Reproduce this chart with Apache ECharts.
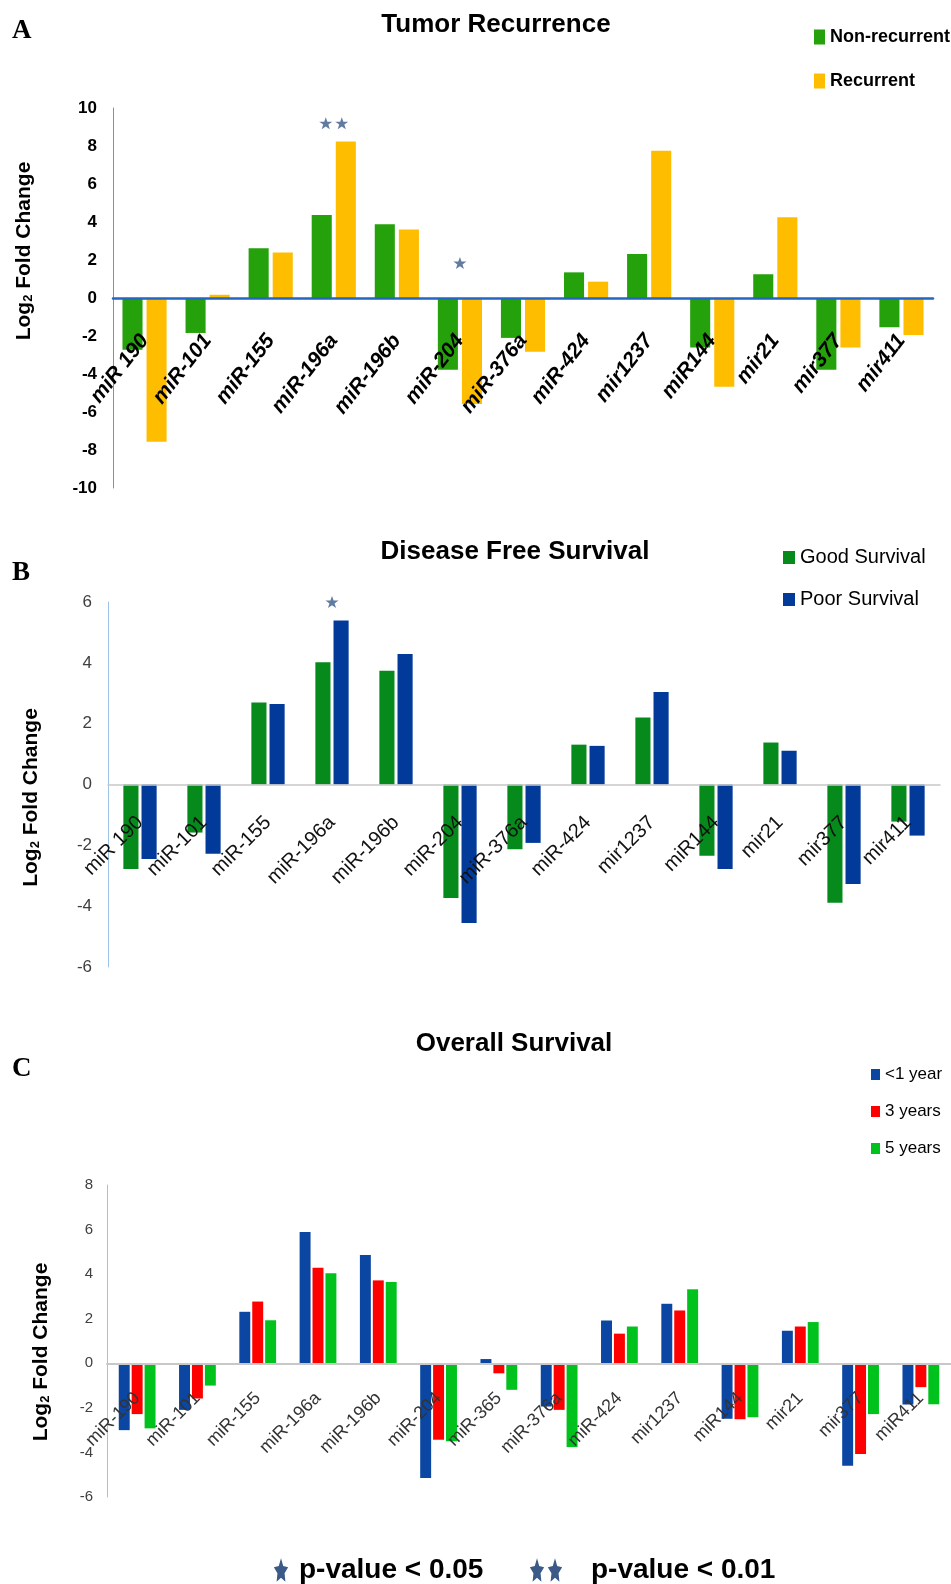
<!DOCTYPE html>
<html>
<head>
<meta charset="utf-8">
<script src="https://cdn.jsdelivr.net/npm/echarts@6.0.0/dist/echarts.min.js"></script>
<style>
html, body { margin: 0; padding: 0; background: #fff; }
#chart { width: 951px; height: 1584px; }
</style>
</head>
<body>
<div id="chart"></div>
<script>
// categories
const catsAB = ['miR 190', 'miR-101', 'miR-155', 'miR-196a', 'miR-196b', 'miR-204', 'miR-376a', 'miR-424', 'mir1237', 'miR144', 'mir21', 'mir377', 'mir411'];
const catsC = ['miR-190', 'miR-101', 'miR-155', 'miR-196a', 'miR-196b', 'miR-204', 'miR-365', 'miR-376a', 'miR-424', 'mir1237', 'miR144', 'mir21', 'mir377', 'miR411'];

// A: tumor recurrence
const nonRecurrent = [-2.72, -1.84, 2.62, 4.37, 3.88, -3.77, -2.1, 1.35, 2.31, -2.6, 1.25, -3.77, -1.54];
const recurrent = [-7.56, 0.17, 2.4, 8.24, 3.6, -5.58, -2.83, 0.86, 7.75, -4.67, 4.25, -2.6, -1.95];

// B: disease free survival
const goodSurvival = [-2.78, -1.58, 2.7, 4.02, 3.74, -3.73, -2.13, 1.31, 2.2, -2.34, 1.38, -3.89, -1.22];
const poorSurvival = [-2.45, -2.28, 2.65, 5.39, 4.29, -4.55, -1.92, 1.27, 3.04, -2.78, 1.11, -3.27, -1.68];

// C: overall survival
const underOneYear = [-3.0, -2.09, 2.31, 5.89, 4.86, -5.15, 0.19, -1.94, 1.92, 2.67, -2.49, 1.46, -4.6, -1.85];
const threeYears = [-2.28, -1.58, 2.77, 4.29, 3.72, -3.43, -0.45, -2.09, 1.33, 2.37, -2.51, 1.65, -4.07, -1.07];
const fiveYears = [-2.92, -1.0, 1.93, 4.04, 3.65, -3.5, -1.19, -3.76, 1.65, 3.32, -2.42, 1.85, -2.28, -1.84];

// significance stars: [category, height, count]
const starsA = [['miR-196a', 9.2, 2], ['miR-204', 1.84, 1]];
const starsB = [['miR-196a', 6.0, 1]];

const SANS = "'Liberation Sans', Arial, sans-serif";
const SERIF = "'Liberation Serif', 'Times New Roman', serif";
const STAR = 'path://M12,0 L14.8,8.4 L23.4,8.4 L16.5,13.6 L19.1,22 L12,16.9 L4.9,22 L7.5,13.6 L0.6,8.4 L9.2,8.4 Z';
const starColor = '#3b5a88';

function starSeries(list, axis) {
  const data = [];
  list.forEach(s => {
    for (let i = 0; i < s[2]; i++) {
      data.push({ value: [s[0], s[1]], symbolOffset: [(i - (s[2] - 1) / 2) * 16, 0] });
    }
  });
  return {
    type: 'scatter', xAxisIndex: axis, yAxisIndex: axis, symbol: STAR,
    symbolSize: [13, 12], itemStyle: { color: starColor }, data: data, z: 6, silent: true
  };
}

function yAxis(grid, min, max, gap, pad, tickFont, lineColor) {
  return {
    type: 'value', gridIndex: grid, min: min, max: max, interval: 2,
    axisLine: { show: true, lineStyle: { color: lineColor, width: 1 } },
    axisTick: { show: false },
    splitLine: { show: false },
    axisLabel: tickFont,
    name: 'Log{s|2} Fold Change',
    nameLocation: 'middle',
    nameGap: gap,
    nameTextStyle: {
      fontFamily: SANS, fontWeight: 'bold', fontSize: 21, color: '#000', padding: pad,
      rich: { s: { fontFamily: SANS, fontWeight: 'bold', fontSize: 13, color: '#000', verticalAlign: 'bottom' } }
    }
  };
}

// the category axis sits on the zero line: shift it up from the grid bottom
function xAxis(grid, cats, lift, lineColor, lineWidth, label) {
  return {
    type: 'category', gridIndex: grid, data: cats, z: 5,
    offset: -lift,
    axisLine: { onZero: false, lineStyle: { color: lineColor, width: lineWidth } },
    axisTick: { show: false },
    axisLabel: Object.assign({ interval: 0 }, label)
  };
}

const chart = echarts.init(document.getElementById('chart'));

function starPoints(cx, cy, w, h) {
  const pts = [];
  for (let i = 0; i < 10; i++) {
    const a = -Math.PI / 2 + i * Math.PI / 5;
    const r = i % 2 === 0 ? 1 : 0.5;
    pts.push([cx + Math.cos(a) * r * w / 2, cy + Math.sin(a) * r * h / 2 + h * 0.05]);
  }
  return pts;
}

chart.setOption({
  animation: false,
  title: [
    { text: 'Tumor Recurrence', left: 496, top: 12, textAlign: 'center', padding: 0,
      textStyle: { fontFamily: SANS, fontWeight: 'bold', fontSize: 26, color: '#000' } },
    { text: 'Disease Free Survival', left: 515, top: 539, textAlign: 'center', padding: 0,
      textStyle: { fontFamily: SANS, fontWeight: 'bold', fontSize: 26, color: '#000' } },
    { text: 'Overall Survival', left: 514, top: 1031, textAlign: 'center', padding: 0,
      textStyle: { fontFamily: SANS, fontWeight: 'bold', fontSize: 26, color: '#000' } }
  ],
  legend: [
    { data: ['Non-recurrent', 'Recurrent'], orient: 'vertical', left: 814, top: 27, padding: 0,
      itemWidth: 11, itemHeight: 15, itemGap: 24, icon: 'rect',
      textStyle: { fontFamily: SANS, fontWeight: 'bold', fontSize: 18, lineHeight: 20, color: '#000' } },
    { data: ['Good Survival', 'Poor Survival'], orient: 'vertical', left: 783, top: 547, padding: 0,
      itemWidth: 12, itemHeight: 13, itemGap: 21, icon: 'rect',
      textStyle: { fontFamily: SANS, fontSize: 20, lineHeight: 21, color: '#000' } },
    { data: ['<1 year', '3 years', '5 years'], orient: 'vertical', left: 871, top: 1066, padding: 0,
      itemWidth: 9, itemHeight: 11, itemGap: 20, icon: 'rect',
      textStyle: { fontFamily: SANS, fontSize: 17, lineHeight: 17, color: '#000' } }
  ],
  grid: [
    { left: 113, top: 108, width: 820, height: 380 },
    { left: 108, top: 602, width: 832, height: 365 },
    { left: 107, top: 1185, width: 847, height: 312 }
  ],
  xAxis: [
    xAxis(0, catsAB, 190, '#2566c2', 2.5, { rotate: 52, margin: 39, fontFamily: SANS, fontWeight: 'bold', fontStyle: 'italic', fontSize: 21, color: '#000' }),
    xAxis(1, catsAB, 182.5, '#c8c8c8', 1.5, { rotate: 45, margin: 35, fontFamily: SANS, fontSize: 20, color: '#111' }),
    xAxis(2, catsC, 133.7, '#c8c8c8', 2, { rotate: 45, margin: 32, fontFamily: SANS, fontSize: 18, color: '#333' })
  ],
  yAxis: [
    yAxis(0, -10, 10, 78, [0, 0, 0, 94], { fontFamily: SANS, fontWeight: 'bold', fontSize: 17, color: '#000', margin: 16 }, '#5b9bd5'),
    yAxis(1, -6, 6, 66, [0, 26, 0, 0], { fontFamily: SANS, fontSize: 17, color: '#404040', margin: 16 }, '#9dc3e6'),
    yAxis(2, -6, 8, 55, [0, 22, 0, 0], { fontFamily: SANS, fontSize: 15, color: '#404040', margin: 14 }, '#9dc3e6')
  ],
  series: [
    { name: 'Non-recurrent', type: 'bar', xAxisIndex: 0, yAxisIndex: 0, data: nonRecurrent,
      itemStyle: { color: '#25a10b' }, barCategoryGap: '30%', barGap: '20%' },
    { name: 'Recurrent', type: 'bar', xAxisIndex: 0, yAxisIndex: 0, data: recurrent,
      itemStyle: { color: '#ffbd00' } },
    { name: 'Good Survival', type: 'bar', xAxisIndex: 1, yAxisIndex: 1, data: goodSurvival,
      itemStyle: { color: '#078a1c' }, barCategoryGap: '48%', barGap: '20%' },
    { name: 'Poor Survival', type: 'bar', xAxisIndex: 1, yAxisIndex: 1, data: poorSurvival,
      itemStyle: { color: '#023a9a' } },
    { name: '<1 year', type: 'bar', xAxisIndex: 2, yAxisIndex: 2, data: underOneYear,
      itemStyle: { color: '#0a46a2' }, barCategoryGap: '39%', barGap: '18%' },
    { name: '3 years', type: 'bar', xAxisIndex: 2, yAxisIndex: 2, data: threeYears,
      itemStyle: { color: '#ff0000' } },
    { name: '5 years', type: 'bar', xAxisIndex: 2, yAxisIndex: 2, data: fiveYears,
      itemStyle: { color: '#00c21c' } },
    starSeries(starsA, 0),
    starSeries(starsB, 1)
  ],
  graphic: [
    { type: 'text', left: 12, top: 18, style: { text: 'A', font: 'bold 27px ' + SERIF, fill: '#000' } },
    { type: 'text', left: 12, top: 560, style: { text: 'B', font: 'bold 27px ' + SERIF, fill: '#000' } },
    { type: 'text', left: 12, top: 1056, style: { text: 'C', font: 'bold 27px ' + SERIF, fill: '#000' } },
    { type: 'polygon', shape: { points: starPoints(281, 1570, 15, 26) }, style: { fill: starColor } },
    { type: 'text', left: 299, top: 1556, style: { text: 'p-value < 0.05', font: 'bold 28px ' + SANS, fill: '#000' } },
    { type: 'polygon', shape: { points: starPoints(537, 1570, 15, 26) }, style: { fill: starColor } },
    { type: 'polygon', shape: { points: starPoints(555, 1570, 15, 26) }, style: { fill: starColor } },
    { type: 'text', left: 591, top: 1556, style: { text: 'p-value < 0.01', font: 'bold 28px ' + SANS, fill: '#000' } }
  ]
});
</script>
</body>
</html>
